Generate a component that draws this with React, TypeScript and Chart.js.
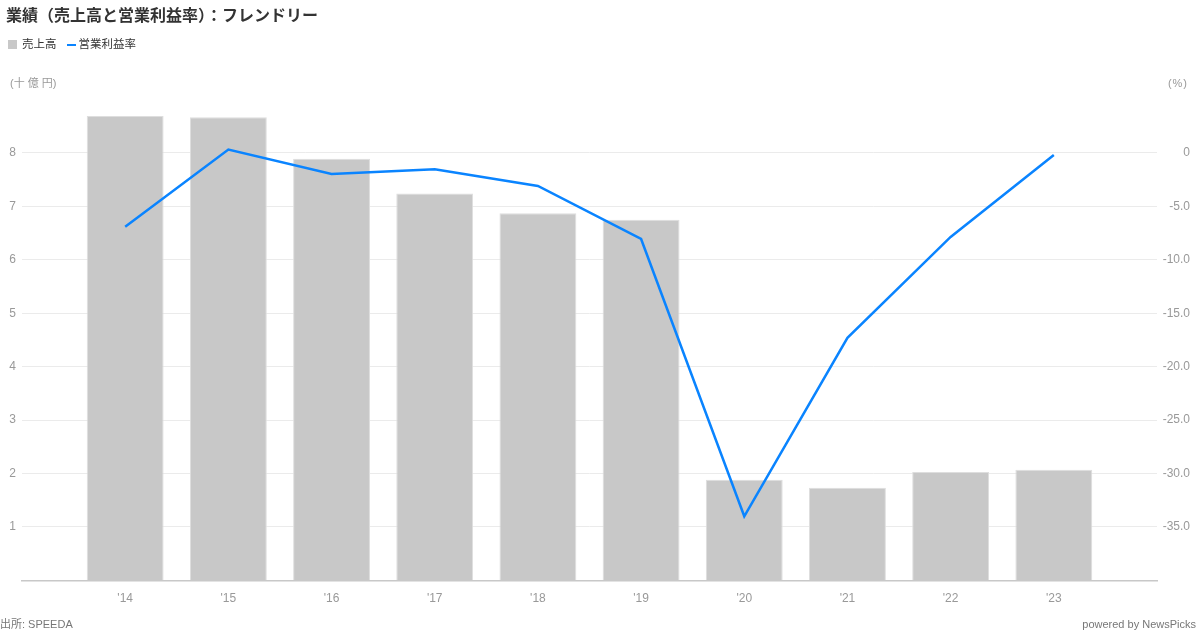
import React, { useEffect, useRef } from "react";
import { Chart, registerables } from "chart.js";

Chart.register(...registerables);

const categories = ["'14", "'15", "'16", "'17", "'18", "'19", "'20", "'21", "'22", "'23"];
const sales = [8.69, 8.67, 7.89, 7.24, 6.87, 6.75, 1.885, 1.735, 2.03, 2.07];
const margin = [-6.9, 0.31, -1.97, -1.53, -3.09, -8.05, -34.0, -17.3, -7.86, -0.19];
const leftTicks = [1, 2, 3, 4, 5, 6, 7, 8];
const rightTicks = [0, -5, -10, -15, -20, -25, -30, -35];

const TITLE = "業績（売上高と営業利益率）：フレンドリー";
const SALES_LABEL = "売上高";
const MARGIN_LABEL = "営業利益率";
const LEFT_UNIT = "(十 億 円)";
const RIGHT_UNIT = "(%)";
const SOURCE = "出所: SPEEDA";
const POWERED = "powered by NewsPicks";

const FONT = "'Liberation Sans', 'Noto Sans CJK JP', sans-serif";
const BAR_COLOR = "#c8c8c8";
const LINE_COLOR = "#0a84ff";

export default function App() {
  const ref = useRef<HTMLCanvasElement | null>(null);

  useEffect(() => {
    if (!ref.current) return;
    const labels = ["", ...categories, ""];
    const barData = [null, ...sales, null];
    const lineData = [null, ...margin, null];
    const chart = new Chart(ref.current, {
      type: "bar",
      data: {
        labels,
        datasets: [
          {
            type: "line",
            label: MARGIN_LABEL,
            data: lineData as any,
            yAxisID: "y1",
            borderColor: LINE_COLOR,
            backgroundColor: LINE_COLOR,
            borderWidth: 2.5,
            pointRadius: 0,
            tension: 0,
            spanGaps: false,
            order: 0,
          },
          {
            type: "bar",
            label: SALES_LABEL,
            data: barData as any,
            yAxisID: "y",
            backgroundColor: BAR_COLOR,
            borderColor: "#dedede",
            borderWidth: 1,
            categoryPercentage: 1,
            barPercentage: 0.745,
            order: 1,
          },
        ],
      },
      options: {
        animation: false,
        responsive: true,
        maintainAspectRatio: false,
        layout: { padding: { top: 99.5, bottom: 19.6, left: 0, right: 10 } },
        plugins: {
          legend: { display: false },
          title: { display: false },
          tooltip: { enabled: false },
        },
        scales: {
          x: {
            offset: false,
            grid: { display: false, drawTicks: false },
            border: { display: true, color: "#c8c8c8", width: 1.5 },
            ticks: {
              color: "#999",
              font: { family: FONT, size: 12 },
              padding: 11,
              maxRotation: 0,
              autoSkip: false,
            },
            afterFit: (s: any) => {
              s.height = 30;
            },
          },
          y: {
            position: "left",
            min: 0,
            max: 9,
            afterBuildTicks: (s: any) => {
              s.ticks = [0, ...leftTicks, 9].map((v) => ({ value: v }));
            },
            grid: {
              drawTicks: false,
              color: (ctx: any) =>
                leftTicks.includes(ctx.tick?.value) ? "#ebebeb" : "rgba(0,0,0,0)",
              lineWidth: 1,
            },
            border: { display: false },
            ticks: {
              color: "#999",
              font: { family: FONT, size: 12 },
              padding: 6,
              callback: (v: any) => (leftTicks.includes(Number(v)) ? String(v) : ""),
            },
            afterFit: (s: any) => {
              s.width = 22;
            },
          },
          y1: {
            position: "right",
            min: -40,
            max: 5,
            afterBuildTicks: (s: any) => {
              s.ticks = [-40, ...rightTicks.slice().reverse(), 5].map((v) => ({ value: v }));
            },
            grid: { display: false, drawTicks: false },
            border: { display: false },
            ticks: {
              color: "#999",
              font: { family: FONT, size: 12 },
              crossAlign: "far",
              callback: (v: any) => {
                const n = Number(v);
                if (!rightTicks.includes(n)) return "";
                return n === 0 ? "0" : n.toFixed(1);
              },
            },
            afterFit: (s: any) => {
              s.width = 33;
            },
          },
        },
      },
    });
    return () => chart.destroy();
  }, []);

  const text = (style: React.CSSProperties, content: React.ReactNode) => (
    <div style={{ position: "absolute", fontFamily: FONT, whiteSpace: "nowrap", lineHeight: 1, ...style }}>
      {content}
    </div>
  );

  return (
    <div style={{ position: "absolute", left: 0, top: 0, width: 1200, height: 630, background: "#fff", overflow: "hidden" }}>
      <div style={{ position: "absolute", left: 0, top: 0, width: 1200, height: 630 }}>
        <canvas ref={ref} />
      </div>
      {text({ left: 6, top: 8, fontSize: 16, fontWeight: "bold", color: "#333" }, TITLE)}
      <div style={{ position: "absolute", left: 8, top: 39, display: "flex", alignItems: "center", fontFamily: FONT, fontSize: 11.5, color: "#333", lineHeight: 1 }}>
        <span style={{ display: "inline-block", width: 9, height: 9, background: BAR_COLOR, marginRight: 5 }} />
        <span style={{ marginRight: 10 }}>{SALES_LABEL}</span>
        <span style={{ display: "inline-block", width: 9, height: 2.5, background: LINE_COLOR, marginRight: 3 }} />
        <span>{MARGIN_LABEL}</span>
      </div>
      {text({ left: 10, top: 78, fontSize: 11, color: "#999" }, LEFT_UNIT)}
      {text({ right: 12, top: 78, fontSize: 11, color: "#999", letterSpacing: 1 }, RIGHT_UNIT)}
      {text({ left: 0, top: 619, fontSize: 11, color: "#777" }, SOURCE)}
      {text({ right: 4, top: 619, fontSize: 11, color: "#777" }, POWERED)}
    </div>
  );
}
